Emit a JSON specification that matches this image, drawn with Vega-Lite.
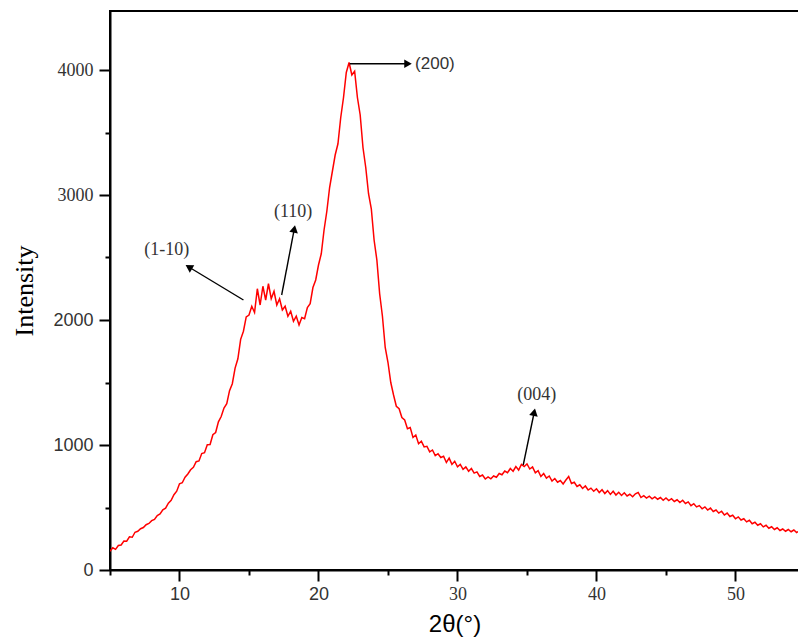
{
  "$schema": "https://vega.github.io/schema/vega-lite/v6.json",
  "autosize": "none",
  "width": 689,
  "height": 559,
  "padding": {"left": 110, "top": 11, "right": 0, "bottom": 74},
  "background": "white",
  "config": {
    "view": {"stroke": "black", "strokeWidth": 2},
    "axis": {
      "grid": false,
      "domainColor": "black",
      "domainWidth": 2,
      "tickColor": "black",
      "tickWidth": 2,
      "labelColor": "#333333",
      "titleColor": "black",
      "titleFontWeight": "normal"
    }
  },
  "datasets": {
    "xrd": [
      {"t":5.0,"i":150},{"t":5.2,"i":178},{"t":5.4,"i":165},{"t":5.6,"i":196},{"t":5.8,"i":200},
      {"t":6.0,"i":232},{"t":6.2,"i":230},{"t":6.4,"i":265},{"t":6.6,"i":262},{"t":6.8,"i":302},
      {"t":7.0,"i":310},{"t":7.2,"i":330},{"t":7.4,"i":340},{"t":7.6,"i":362},{"t":7.8,"i":372},
      {"t":8.0,"i":395},{"t":8.2,"i":405},{"t":8.4,"i":436},{"t":8.6,"i":448},{"t":8.8,"i":482},
      {"t":9.0,"i":495},{"t":9.2,"i":535},{"t":9.4,"i":558},{"t":9.6,"i":602},{"t":9.8,"i":630},
      {"t":10.0,"i":690},{"t":10.2,"i":698},{"t":10.4,"i":742},{"t":10.6,"i":768},{"t":10.8,"i":802},
      {"t":11.0,"i":822},{"t":11.2,"i":866},{"t":11.4,"i":872},{"t":11.6,"i":932},{"t":11.8,"i":938},
      {"t":12.0,"i":1002},{"t":12.2,"i":1004},{"t":12.4,"i":1082},{"t":12.6,"i":1100},{"t":12.8,"i":1185},
      {"t":13.0,"i":1228},{"t":13.2,"i":1296},{"t":13.4,"i":1330},{"t":13.6,"i":1435},{"t":13.8,"i":1490},
      {"t":14.0,"i":1615},{"t":14.2,"i":1690},{"t":14.4,"i":1845},{"t":14.6,"i":1910},{"t":14.8,"i":2025},
      {"t":15.0,"i":2040},{"t":15.2,"i":2110},{"t":15.4,"i":2060},{"t":15.6,"i":2250},{"t":15.8,"i":2120},
      {"t":16.0,"i":2270},{"t":16.2,"i":2160},{"t":16.4,"i":2290},{"t":16.6,"i":2170},{"t":16.8,"i":2230},
      {"t":17.0,"i":2120},{"t":17.2,"i":2170},{"t":17.4,"i":2080},{"t":17.6,"i":2110},{"t":17.8,"i":2030},
      {"t":18.0,"i":2070},{"t":18.2,"i":1990},{"t":18.4,"i":2030},{"t":18.6,"i":1960},{"t":18.8,"i":2020},
      {"t":19.0,"i":2010},{"t":19.2,"i":2100},{"t":19.4,"i":2130},{"t":19.6,"i":2260},{"t":19.8,"i":2320},
      {"t":20.0,"i":2440},{"t":20.2,"i":2530},{"t":20.4,"i":2720},{"t":20.6,"i":2870},{"t":20.8,"i":3060},
      {"t":21.0,"i":3190},{"t":21.2,"i":3320},{"t":21.4,"i":3410},{"t":21.6,"i":3620},{"t":21.8,"i":3780},
      {"t":22.0,"i":3980},{"t":22.2,"i":4060},{"t":22.4,"i":3960},{"t":22.6,"i":3990},{"t":22.8,"i":3780},
      {"t":23.0,"i":3640},{"t":23.2,"i":3380},{"t":23.4,"i":3220},{"t":23.6,"i":3010},{"t":23.8,"i":2890},
      {"t":24.0,"i":2640},{"t":24.2,"i":2480},{"t":24.4,"i":2210},{"t":24.6,"i":2030},{"t":24.8,"i":1780},
      {"t":25.0,"i":1660},{"t":25.2,"i":1500},{"t":25.4,"i":1400},{"t":25.6,"i":1310},{"t":25.8,"i":1290},
      {"t":26.0,"i":1220},{"t":26.2,"i":1200},{"t":26.4,"i":1130},{"t":26.6,"i":1140},{"t":26.8,"i":1060},
      {"t":27.0,"i":1080},{"t":27.2,"i":1010},{"t":27.4,"i":1030},{"t":27.6,"i":985},{"t":27.8,"i":990},
      {"t":28.0,"i":945},{"t":28.2,"i":960},{"t":28.4,"i":915},{"t":28.6,"i":930},{"t":28.8,"i":900},
      {"t":29.0,"i":910},{"t":29.2,"i":860},{"t":29.4,"i":895},{"t":29.6,"i":845},{"t":29.8,"i":870},
      {"t":30.0,"i":825},{"t":30.2,"i":845},{"t":30.4,"i":805},{"t":30.6,"i":825},{"t":30.8,"i":790},
      {"t":31.0,"i":812},{"t":31.2,"i":775},{"t":31.4,"i":785},{"t":31.6,"i":748},{"t":31.8,"i":760},
      {"t":32.0,"i":728},{"t":32.2,"i":745},{"t":32.4,"i":730},{"t":32.6,"i":752},{"t":32.8,"i":742},
      {"t":33.0,"i":772},{"t":33.2,"i":762},{"t":33.4,"i":792},{"t":33.6,"i":778},{"t":33.8,"i":812},
      {"t":34.0,"i":790},{"t":34.2,"i":828},{"t":34.4,"i":800},{"t":34.6,"i":845},{"t":34.8,"i":828},
      {"t":35.0,"i":848},{"t":35.2,"i":808},{"t":35.4,"i":825},{"t":35.6,"i":778},{"t":35.8,"i":795},
      {"t":36.0,"i":748},{"t":36.2,"i":772},{"t":36.4,"i":735},{"t":36.6,"i":752},{"t":36.8,"i":712},
      {"t":37.0,"i":732},{"t":37.2,"i":702},{"t":37.4,"i":716},{"t":37.6,"i":688},{"t":37.8,"i":720},
      {"t":38.0,"i":748},{"t":38.2,"i":692},{"t":38.4,"i":702},{"t":38.6,"i":668},{"t":38.8,"i":682},
      {"t":39.0,"i":652},{"t":39.2,"i":672},{"t":39.4,"i":640},{"t":39.6,"i":655},{"t":39.8,"i":630},
      {"t":40.0,"i":650},{"t":40.2,"i":620},{"t":40.4,"i":642},{"t":40.6,"i":612},{"t":40.8,"i":635},
      {"t":41.0,"i":605},{"t":41.2,"i":630},{"t":41.4,"i":600},{"t":41.6,"i":622},{"t":41.8,"i":596},
      {"t":42.0,"i":618},{"t":42.2,"i":592},{"t":42.4,"i":606},{"t":42.6,"i":586},{"t":42.8,"i":610},
      {"t":43.0,"i":620},{"t":43.2,"i":580},{"t":43.4,"i":595},{"t":43.6,"i":575},{"t":43.8,"i":590},
      {"t":44.0,"i":570},{"t":44.2,"i":585},{"t":44.4,"i":566},{"t":44.6,"i":580},{"t":44.8,"i":558},
      {"t":45.0,"i":576},{"t":45.2,"i":555},{"t":45.4,"i":570},{"t":45.6,"i":548},{"t":45.8,"i":562},
      {"t":46.0,"i":540},{"t":46.2,"i":558},{"t":46.4,"i":532},{"t":46.6,"i":545},{"t":46.8,"i":515},
      {"t":47.0,"i":530},{"t":47.2,"i":505},{"t":47.4,"i":515},{"t":47.6,"i":490},{"t":47.8,"i":505},
      {"t":48.0,"i":480},{"t":48.2,"i":495},{"t":48.4,"i":468},{"t":48.6,"i":480},{"t":48.8,"i":455},
      {"t":49.0,"i":470},{"t":49.2,"i":440},{"t":49.4,"i":455},{"t":49.6,"i":428},{"t":49.8,"i":438},
      {"t":50.0,"i":410},{"t":50.2,"i":425},{"t":50.4,"i":400},{"t":50.6,"i":410},{"t":50.8,"i":385},
      {"t":51.0,"i":398},{"t":51.2,"i":370},{"t":51.4,"i":382},{"t":51.6,"i":358},{"t":51.8,"i":370},
      {"t":52.0,"i":345},{"t":52.2,"i":358},{"t":52.4,"i":334},{"t":52.6,"i":346},{"t":52.8,"i":324},
      {"t":53.0,"i":338},{"t":53.2,"i":316},{"t":53.4,"i":328},{"t":53.6,"i":310},{"t":53.8,"i":324},
      {"t":54.0,"i":306},{"t":54.2,"i":320},{"t":54.4,"i":300},{"t":54.6,"i":312}
    ],
    "peaks": [
      {"hkl":"(1-10)","x1":14.6,"y1":2160,"x2":10.67,"y2":2424,"lx":9.08,"ly":2560},
      {"hkl":"(110)","x1":17.35,"y1":2200,"x2":18.26,"y2":2729,"lx":18.17,"ly":2866},
      {"hkl":"(200)","x1":22.25,"y1":4050,"x2":26.44,"y2":4050,"lx":26.95,"ly":4050},
      {"hkl":"(004)","x1":34.73,"y1":840,"x2":35.52,"y2":1262,"lx":35.7,"ly":1400}
    ]
  },
  "layer": [
    {
      "data": {"name": "xrd"},
      "mark": {"type": "line", "color": "#ff0000", "strokeWidth": 1.5, "clip": true},
      "encoding": {
        "x": {
          "field": "t", "type": "quantitative",
          "scale": {"domain": [5, 54.57], "nice": false, "zero": false},
          "axis": {
            "title": "2θ(°)",
            "titleFont": "Liberation Sans",
            "titleFontSize": 24,
            "titlePadding": 9,
            "values": [5, 10, 15, 20, 25, 30, 35, 40, 45, 50],
            "labelExpr": "datum.value % 10 === 0 ? datum.label : ''",
            "labelFont": {"condition": {"test": "datum.value <= 20", "value": "Liberation Sans"}, "value": "Liberation Serif"},
            "labelFontSize": 18,
            "labelPadding": 4,
            "tickSize": {"condition": {"test": "datum.value % 10 !== 0", "value": 5}, "value": 11}
          }
        },
        "y": {
          "field": "i", "type": "quantitative",
          "scale": {"domain": [0, 4472], "nice": false},
          "axis": {
            "title": "Intensity",
            "titleFont": "Liberation Serif",
            "titleFontSize": 26,
            "titlePadding": 15,
            "values": [0, 500, 1000, 1500, 2000, 2500, 3000, 3500, 4000],
            "labelExpr": "datum.value % 1000 === 0 ? datum.label : ''",
            "format": "d",
            "labelFont": {"condition": {"test": "datum.value <= 2000", "value": "Liberation Sans"}, "value": "Liberation Serif"},
            "labelFontSize": 18,
            "labelPadding": 6,
            "tickSize": {"condition": {"test": "datum.value % 1000 !== 0", "value": 5}, "value": 11}
          }
        }
      }
    },
    {
      "data": {"name": "peaks"},
      "mark": {"type": "rule", "color": "black", "strokeWidth": 1.4},
      "encoding": {
        "x": {"field": "x1", "type": "quantitative"},
        "y": {"field": "y1", "type": "quantitative"},
        "x2": {"field": "x2"},
        "y2": {"field": "y2"}
      }
    },
    {
      "data": {"name": "peaks"},
      "transform": [{"filter": "datum.hkl === '(1-10)'"}],
      "mark": {"type": "point", "shape": "triangle-up", "size": 75, "filled": true, "color": "black", "opacity": 1, "angle": 301},
      "encoding": {
        "x": {"field": "x2", "type": "quantitative"},
        "y": {"field": "y2", "type": "quantitative"}
      }
    },
    {
      "data": {"name": "peaks"},
      "transform": [{"filter": "datum.hkl === '(110)'"}],
      "mark": {"type": "point", "shape": "triangle-up", "size": 75, "filled": true, "color": "black", "opacity": 1, "angle": 11},
      "encoding": {
        "x": {"field": "x2", "type": "quantitative"},
        "y": {"field": "y2", "type": "quantitative"}
      }
    },
    {
      "data": {"name": "peaks"},
      "transform": [{"filter": "datum.hkl === '(200)'"}],
      "mark": {"type": "point", "shape": "triangle-up", "size": 75, "filled": true, "color": "black", "opacity": 1, "angle": 90},
      "encoding": {
        "x": {"field": "x2", "type": "quantitative"},
        "y": {"field": "y2", "type": "quantitative"}
      }
    },
    {
      "data": {"name": "peaks"},
      "transform": [{"filter": "datum.hkl === '(004)'"}],
      "mark": {"type": "point", "shape": "triangle-up", "size": 75, "filled": true, "color": "black", "opacity": 1, "angle": 12},
      "encoding": {
        "x": {"field": "x2", "type": "quantitative"},
        "y": {"field": "y2", "type": "quantitative"}
      }
    },
    {
      "data": {"name": "peaks"},
      "transform": [{"filter": "datum.hkl !== '(200)'"}],
      "mark": {"type": "text", "font": "Liberation Serif", "fontSize": 18, "color": "#333333", "align": "center", "baseline": "middle"},
      "encoding": {
        "x": {"field": "lx", "type": "quantitative"},
        "y": {"field": "ly", "type": "quantitative"},
        "text": {"field": "hkl"}
      }
    },
    {
      "data": {"name": "peaks"},
      "transform": [{"filter": "datum.hkl === '(200)'"}],
      "mark": {"type": "text", "font": "Liberation Sans", "fontSize": 17, "color": "#333333", "align": "left", "baseline": "middle"},
      "encoding": {
        "x": {"field": "lx", "type": "quantitative"},
        "y": {"field": "ly", "type": "quantitative"},
        "text": {"field": "hkl"}
      }
    }
  ]
}
